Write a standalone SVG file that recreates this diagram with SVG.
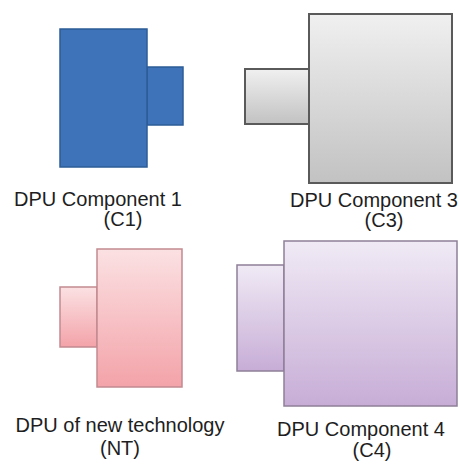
<svg xmlns="http://www.w3.org/2000/svg" width="459" height="468" viewBox="0 0 459 468">
<defs>
<linearGradient id="gGray" x1="0" y1="0" x2="0" y2="1"><stop offset="0" stop-color="#f0f0f0"/><stop offset="1" stop-color="#c2c2c2"/></linearGradient>
<linearGradient id="gPink" x1="0" y1="0" x2="0" y2="1"><stop offset="0" stop-color="#fbe1e3"/><stop offset="1" stop-color="#f3a3a9"/></linearGradient>
<linearGradient id="gPurple" x1="0" y1="0" x2="0" y2="1"><stop offset="0" stop-color="#f0eaf5"/><stop offset="1" stop-color="#c7add6"/></linearGradient>
</defs>
<style>
text{font-family:"Liberation Sans",Arial,sans-serif;font-size:20px;fill:#1e1e1e;text-anchor:middle}
.blue{fill:#3f73b9;stroke:#2d5c97;stroke-width:1.5}
.gray{fill:url(#gGray);stroke:#5a5a5a;stroke-width:2}
.pink{fill:url(#gPink);stroke:#c28a90;stroke-width:1.5}
.purple{fill:url(#gPurple);stroke:#8e7f98;stroke-width:1.5}
</style>
<rect width="459" height="468" fill="#ffffff"/>
<g id="c1">
<rect class="blue" x="147" y="67" width="36" height="58"/>
<rect class="blue" x="60" y="29" width="87" height="138"/>
<text x="98" y="206">DPU Component 1</text>
<text x="123" y="226">(C1)</text>
</g>
<g id="c3">
<rect class="gray" x="245" y="69" width="64" height="55"/>
<rect class="gray" x="309" y="14" width="143" height="169"/>
<text x="374" y="207">DPU Component 3</text>
<text x="384" y="227">(C3)</text>
</g>
<g id="nt">
<rect class="pink" x="60" y="287" width="37" height="60"/>
<rect class="pink" x="97" y="249" width="85" height="138"/>
<text x="120" y="432">DPU of new technology</text>
<text x="120" y="455">(NT)</text>
</g>
<g id="c4">
<rect class="purple" x="237" y="265" width="47" height="106"/>
<rect class="purple" x="284" y="241" width="173" height="165"/>
<text x="361" y="436">DPU Component 4</text>
<text x="372" y="457">(C4)</text>
</g>
<g id="connectors"></g>
</svg>
